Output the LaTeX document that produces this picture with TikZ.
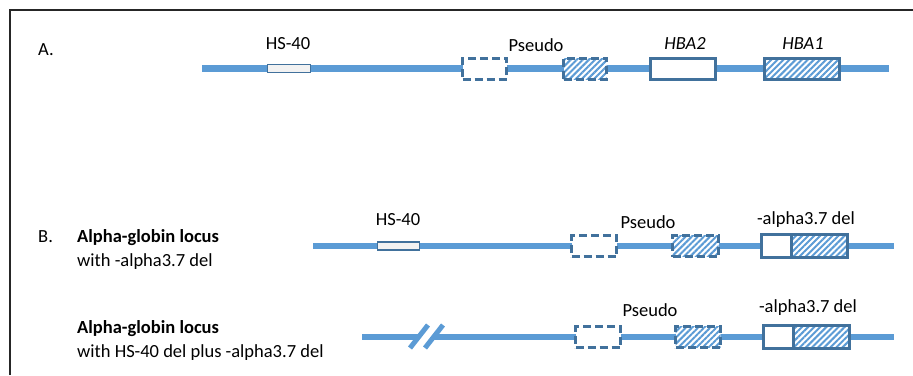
\documentclass[tikz,border=0pt]{standalone}
\usepackage{fontspec}
\setmainfont{Carlito}
\usetikzlibrary{patterns.meta}
\definecolor{lineblue}{HTML}{5B9BD5}
\definecolor{boxblue}{HTML}{41719C}
\definecolor{hsfill}{HTML}{F2F2F2}
\definecolor{framecol}{HTML}{262626}
\begin{document}
\begin{tikzpicture}[x=1pt,y=-1pt,
  txt/.style={font=\fontsize{18.5}{22}\selectfont, inner sep=0pt, anchor=base},
  txtl/.style={txt, anchor=base west},
  locus/.style={line width=6.5pt, draw=lineblue},
  slash/.style={line width=5pt, draw=lineblue},
  hsbox/.style={draw=boxblue, line width=1.2pt, fill=hsfill, inner sep=0pt, outer sep=0pt, minimum height=8pt},
  genebox/.style={draw=boxblue, line width=3pt, fill=white, inner sep=0pt, outer sep=0pt, minimum height=21pt},
  pseudobox/.style={genebox, dash pattern=on 8pt off 4pt},
  hatched/.style={preaction={fill=white}, pattern={Lines[angle=45,distance=4.3pt,line width=2pt]}, pattern color=lineblue}
]
\useasboundingbox (0,0) rectangle (913,375);
% frame
\coordinate (fbl) at (10,375);
\coordinate (ftl) at (10,10);
\coordinate (ftr) at (913,10);
\draw[framecol, line width=1.5pt] (fbl) -- (ftl) -- (ftr);

% ---------------- Row A ----------------
\node[txtl] (labA) at (38,55) {A.};
\coordinate (a0) at (202,68.5);
\coordinate (a1) at (889,68.5);
\draw[locus] (a0) -- (a1);
\node[hsbox, minimum width=43pt] (ahs) at (289,68.5) {};
\node[pseudobox, minimum width=44pt] (ap1) at (484.5,68.5) {};
\node[pseudobox, hatched, minimum width=43pt] (ap2) at (585,68.5) {};
\node[genebox, minimum width=65pt] (ahba2) at (683,68.5) {};
\node[genebox, hatched, minimum width=75pt] (ahba1) at (802,68.5) {};
\node[txt] (tahs) at (288,49) {HS-40};
\node[txt] (tap) at (536,51) {Pseudo};
\node[txt] (tahba2) at (685,49) {\itshape HBA2};
\node[txt] (tahba1) at (803,49) {\itshape HBA1};

% ---------------- Row B1 ----------------
\node[txtl] (labB) at (38,242) {B.};
\node[txtl] (tb1a) at (77,242) {\bfseries Alpha-globin locus};
\node[txtl] (tb1b) at (77,266) {with -alpha3.7 del};
\coordinate (b0) at (313,246);
\coordinate (b1) at (894,246);
\draw[locus] (b0) -- (b1);
\node[hsbox, minimum width=42pt] (bhs) at (398.5,246) {};
\node[pseudobox, minimum width=45pt] (bp1) at (594,246) {};
\node[pseudobox, hatched, minimum width=46pt] (bp2) at (695.5,246) {};
\node[genebox, minimum width=29.5pt, minimum height=23pt] (bdl) at (776.25,246) {};
\node[genebox, hatched, minimum width=56.5pt, minimum height=23pt] (bdr) at (819.25,246) {};
\node[txt] (tbhs) at (398,225) {HS-40};
\node[txt] (tbp) at (648,228) {Pseudo};
\node[txt] (tbdel) at (806,224) {-alpha3.7 del};

% ---------------- Row B2 ----------------
\node[txtl] (tb2a) at (77,333) {\bfseries Alpha-globin locus};
\node[txtl] (tb2b) at (77,357) {with HS-40 del plus -alpha3.7 del};
\coordinate (c0) at (362,337);
\coordinate (c1) at (419,337);
\coordinate (c2) at (434,337);
\coordinate (c3) at (894,337);
\draw[locus] (c0) -- (c1);
\draw[locus] (c2) -- (c3);
\coordinate (s1a) at (410,348);
\coordinate (s1b) at (428,325);
\coordinate (s2a) at (425,348);
\coordinate (s2b) at (443,325);
\draw[slash] (s1a) -- (s1b);
\draw[slash] (s2a) -- (s2b);
\node[pseudobox, minimum width=45pt] (cp1) at (598,337) {};
\node[pseudobox, hatched, minimum width=45pt] (cp2) at (698,337) {};
\node[genebox, minimum width=29.5pt, minimum height=23pt] (cdl) at (778.25,337) {};
\node[genebox, hatched, minimum width=56.5pt, minimum height=23pt] (cdr) at (821.25,337) {};
\node[txt] (tcp) at (650,316) {Pseudo};
\node[txt] (tcdel) at (808,312) {-alpha3.7 del};
\end{tikzpicture}
\end{document}
